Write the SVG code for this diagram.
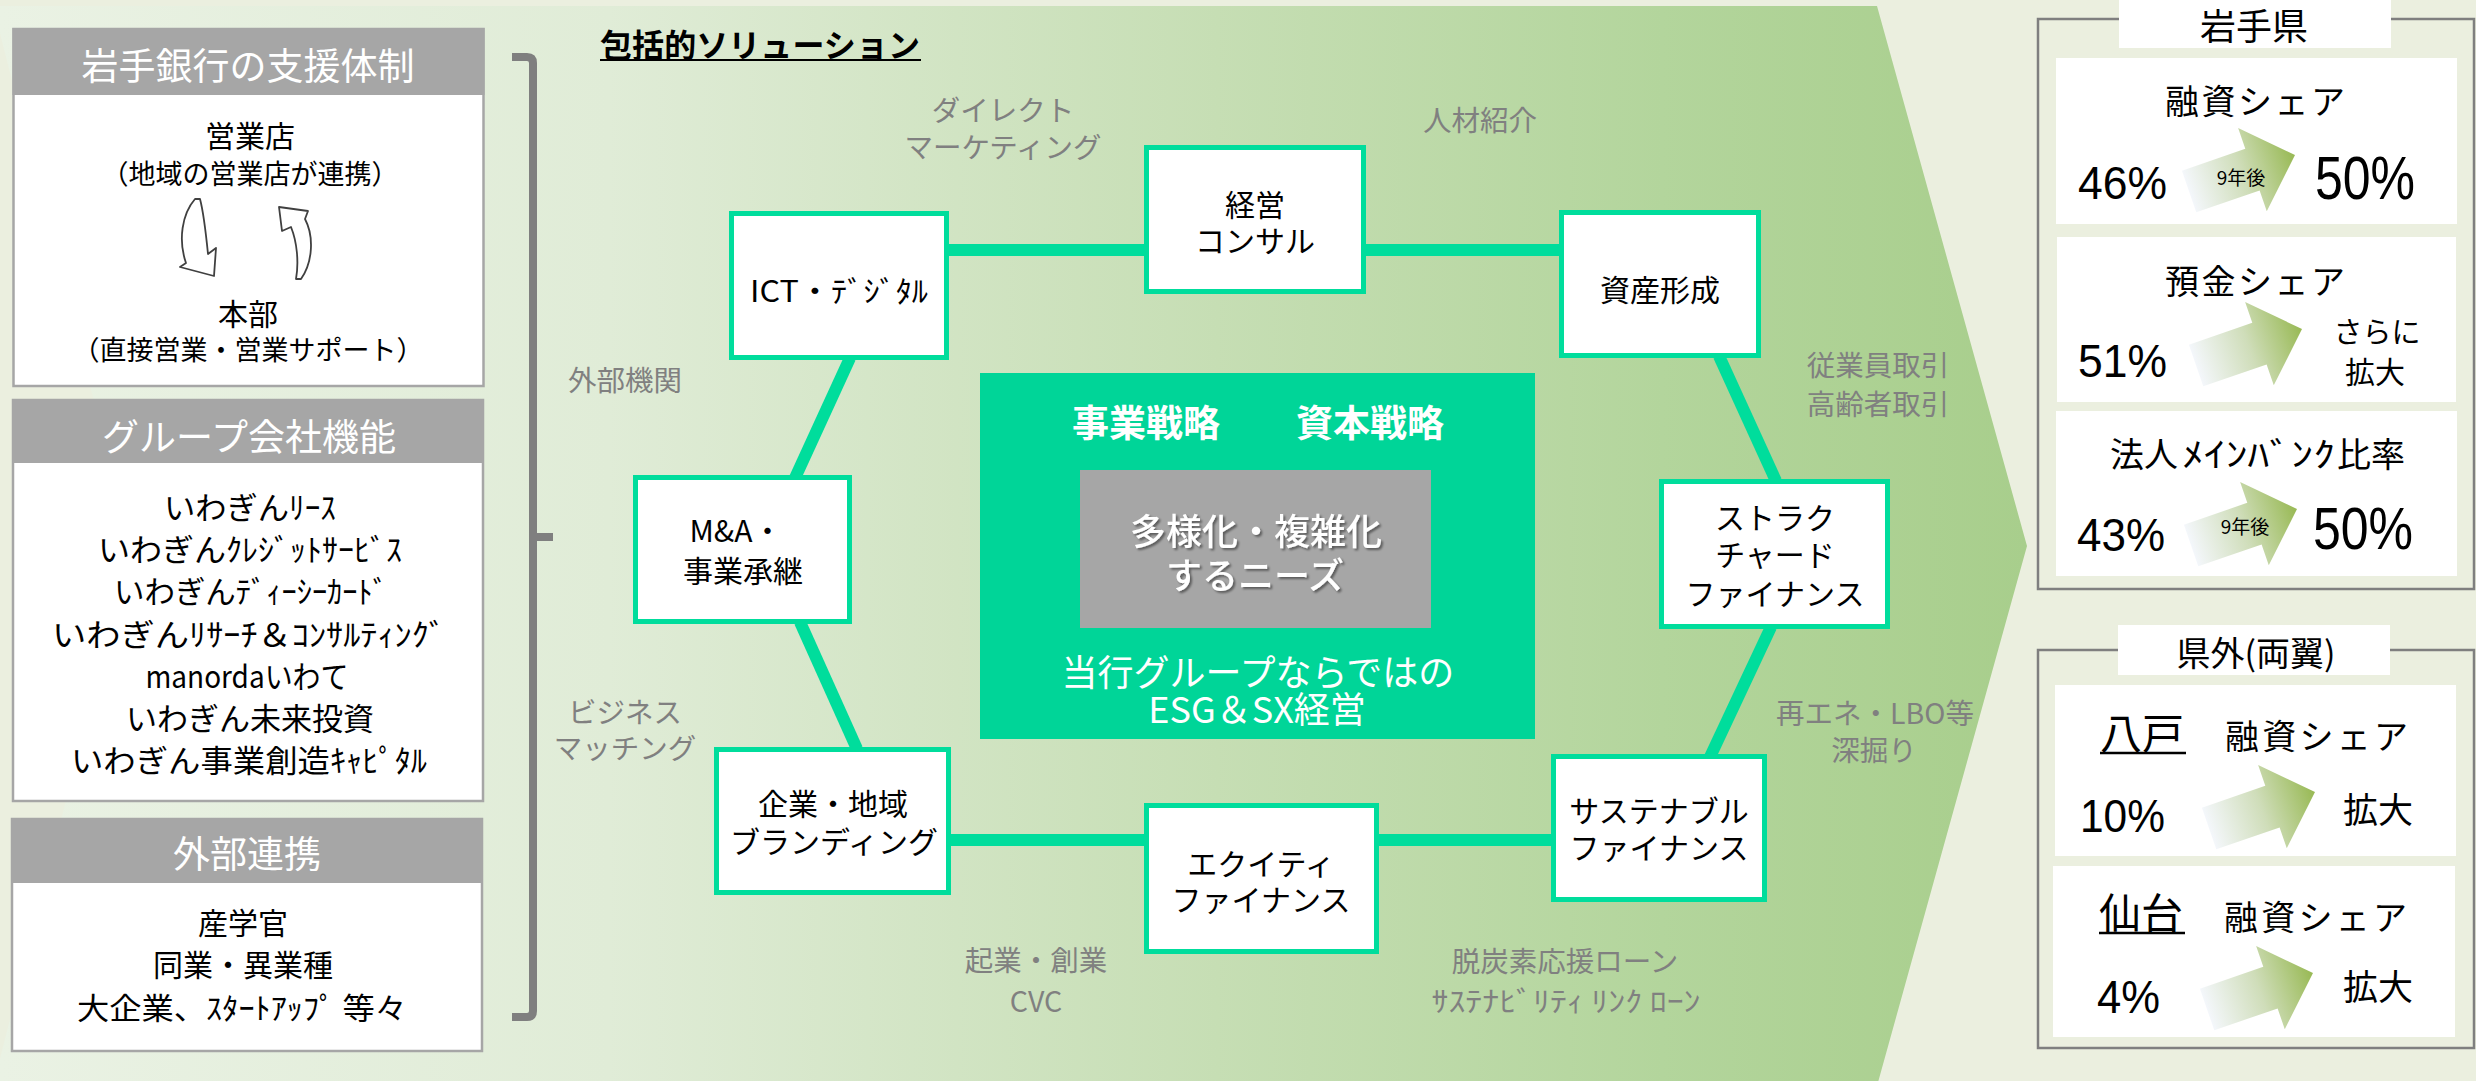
<svg xmlns="http://www.w3.org/2000/svg" width="2476" height="1081" viewBox="0 0 2476 1081">
<defs>
<linearGradient id="chev" x1="0" y1="0" x2="2027" y2="0" gradientUnits="userSpaceOnUse">
<stop offset="0" stop-color="#EAF2E4"/>
<stop offset="0.3" stop-color="#E0ECD7"/>
<stop offset="0.6" stop-color="#C6DEB4"/>
<stop offset="0.82" stop-color="#B3D59C"/>
<stop offset="1" stop-color="#A8CE8C"/>
</linearGradient>
<linearGradient id="arrG" x1="0" y1="0" x2="1" y2="0">
<stop offset="0" stop-color="#F4F7FB"/>
<stop offset="0.5" stop-color="#CFDDB9"/>
<stop offset="1" stop-color="#98B954"/>
</linearGradient>
<path id="upArrow" d="M0,0 L-45,-44 L-45,-22 L-112,-22 L-112,22 L-45,22 L-45,44 Z" fill="url(#arrG)"/>
<filter id="sh" x="-10%" y="-10%" width="130%" height="140%">
<feDropShadow dx="2" dy="2" stdDeviation="1.2" flood-color="#000" flood-opacity="0.45"/>
</filter>
<style>
.jp{font-family:"Noto Sans CJK JP","Noto Sans",sans-serif}
.num{font-family:"Liberation Sans","Noto Sans CJK JP",sans-serif}
.hdr{fill:#A6A6A6}
.hdrt{fill:#fff;font-size:37px;text-anchor:middle}
.body{fill:#fff;stroke:#A6A6A6;stroke-width:2.5}
.lt{fill:#000;text-anchor:middle}
.node rect{fill:#fff;stroke:#00DD9C;stroke-width:5}
.node text{fill:#000;font-size:30px;text-anchor:middle}
.lbl{fill:#808080;font-size:28.5px;text-anchor:middle}
.con{stroke:#00DD9C;stroke-width:12;fill:none}
.ibox{fill:#fff}
.obox{fill:none;stroke:#7F7F7F;stroke-width:2.5}
.rt{fill:#000}
.curv{fill:#fff;stroke:#404040;stroke-width:1.8;stroke-linejoin:round}
</style>
</defs>

<rect x="0" y="0" width="2476" height="1081" fill="#EBEFDF"/>
<polygon points="-7,6 1877,6 2027,546 1877,1086 -7,1086 131,546" fill="url(#chev)"/>

<!-- Left panel -->
<g id="box-shien">
<rect class="body" x="13.5" y="29" width="470" height="357"/>
<rect class="hdr" x="12.5" y="28" width="472" height="67"/>
<text class="jp hdrt" x="248" y="80">岩手銀行の支援体制</text>
<text class="jp lt"><tspan x="250" y="147" font-size="30">営業店</tspan><tspan x="250" y="184" font-size="27">（地域の営業店が連携）</tspan></text>
<path class="curv" d="M195,199 C182,214 178,240 186,263 L180,267 L214,276 L216,248 L208,254 C206,234 204,214 200,199 Z"/>
<path class="curv" d="M301,279 C313,262 314,236 305,219 L308,211 L279,207 L282,231 L291,227 C297,242 299,262 296,279 Z"/>
<text class="jp lt"><tspan x="248" y="325" font-size="30">本部</tspan><tspan x="248" y="360" font-size="27">（直接営業・営業サポート）</tspan></text>
</g>

<g id="box-group">
<rect class="body" x="13" y="400" width="470" height="401"/>
<rect class="hdr" x="12" y="399" width="472" height="64"/>
<text class="jp hdrt" x="249" y="451">グループ会社機能</text>
<g class="jp lt" font-size="31">
<text x="250" y="519" textLength="172" lengthAdjust="spacingAndGlyphs">いわぎんﾘｰｽ</text>
<text x="250" y="561" textLength="304" lengthAdjust="spacingAndGlyphs">いわぎんｸﾚｼﾞｯﾄｻｰﾋﾞｽ</text>
<text x="251" y="603" textLength="274" lengthAdjust="spacingAndGlyphs">いわぎんﾃﾞｨｰｼｰｶｰﾄﾞ</text>
<text x="249" y="646" textLength="394" lengthAdjust="spacingAndGlyphs">いわぎんﾘｻｰﾁ＆ｺﾝｻﾙﾃｨﾝｸﾞ</text>
<text x="247" y="688" textLength="203" lengthAdjust="spacingAndGlyphs">manordaいわて</text>
<text x="250" y="730">いわぎん未来投資</text>
<text x="249" y="772" textLength="356" lengthAdjust="spacingAndGlyphs">いわぎん事業創造ｷｬﾋﾟﾀﾙ</text>
</g>
</g>

<g id="box-gaibu">
<rect class="body" x="12" y="819" width="470" height="232"/>
<rect class="hdr" x="11" y="818" width="472" height="65"/>
<text class="jp hdrt" x="247" y="868">外部連携</text>
<text class="jp lt" font-size="30"><tspan x="243" y="934">産学官</tspan><tspan x="243" y="976">同業・異業種</tspan></text>
<text class="jp lt" x="242" y="1019" font-size="30" textLength="330" lengthAdjust="spacingAndGlyphs">大企業、ｽﾀｰﾄｱｯﾌﾟ 等々</text>
</g>

<path id="bracket" d="M512,57 H527 Q533,57 533,63 V1011 Q533,1017 527,1017 H512 M533,537 H553" fill="none" stroke="#7F7F7F" stroke-width="8"/>

<!-- Title -->
<text class="jp" x="600" y="57" font-size="32" font-weight="bold" fill="#000" textLength="320">包括的ソリューション</text>
<line x1="600" y1="60" x2="921" y2="60" stroke="#000" stroke-width="2"/>

<!-- Gray labels -->
<g class="jp lbl">
<text><tspan x="1003" y="121">ダイレクト</tspan><tspan x="1003" y="158">マーケティング</tspan></text>
<text x="1480" y="131">人材紹介</text>
<text x="625" y="391">外部機関</text>
<text><tspan x="1878" y="376">従業員取引</tspan><tspan x="1878" y="415">高齢者取引</tspan></text>
<text><tspan x="625" y="723">ビジネス</tspan><tspan x="625" y="759">マッチング</tspan></text>
<text><tspan x="1875" y="724">再エネ・LBO等</tspan><tspan x="1874" y="761">深掘り</tspan></text>
<text><tspan x="1036" y="971">起業・創業</tspan><tspan x="1036" y="1012">CVC</tspan></text>
<text x="1565" y="972">脱炭素応援ローン</text>
<text x="1566" y="1012" textLength="269" lengthAdjust="spacingAndGlyphs">ｻｽﾃﾅﾋﾞﾘﾃｨ ﾘﾝｸ ﾛｰﾝ</text>
</g>

<!-- Connectors -->
<g id="connectors" class="con">
<path d="M947,250 H1146"/>
<path d="M1364,250 H1561"/>
<path d="M1719,356 L1776,481"/>
<path d="M1771,627 L1710,757"/>
<path d="M1377,840 H1553"/>
<path d="M949,840 H1146"/>
<path d="M857,749 L800,622"/>
<path d="M795,478 L850,358"/>
</g>

<!-- Center -->
<g id="center">
<rect x="980" y="373" width="555" height="366" fill="#00D598"/>
<text class="jp" x="1146" y="437" font-size="37" font-weight="bold" fill="#fff" text-anchor="middle">事業戦略</text>
<text class="jp" x="1370" y="437" font-size="37" font-weight="bold" fill="#fff" text-anchor="middle">資本戦略</text>
<rect x="1080" y="470" width="351" height="158" fill="#A6A6A6"/>
<text filter="url(#sh)" class="jp" fill="#fff" font-size="36" text-anchor="middle" font-weight="500"><tspan x="1256" y="545">多様化・複雑化</tspan><tspan x="1255" y="589">するニーズ</tspan></text>
<text class="jp" font-size="36" fill="#fff" text-anchor="middle"><tspan x="1258" y="686">当行グループならではの</tspan><tspan x="1257" y="723">ESG＆SX経営</tspan></text>
</g>

<!-- Nodes -->
<g id="node-ict" class="node jp">
<rect x="731.5" y="213.5" width="215" height="144"/>
<text x="839" y="302" textLength="178" lengthAdjust="spacingAndGlyphs">ICT・ﾃﾞｼﾞﾀﾙ</text>
</g>
<g id="node-keiei" class="node jp">
<rect x="1146.5" y="147.5" width="217" height="144"/>
<text><tspan x="1255" y="216">経営</tspan><tspan x="1255" y="252">コンサル</tspan></text>
</g>
<g id="node-shisan" class="node jp">
<rect x="1561.5" y="212.5" width="197" height="143"/>
<text x="1660" y="301">資産形成</text>
</g>
<g id="node-ma" class="node jp">
<rect x="635.5" y="477.5" width="214" height="144"/>
<text><tspan x="736" y="542">M&amp;A・</tspan><tspan x="743" y="582">事業承継</tspan></text>
</g>
<g id="node-struct" class="node jp">
<rect x="1661.5" y="481.5" width="226" height="145"/>
<text><tspan x="1775" y="529">ストラク</tspan><tspan x="1775" y="566">チャード</tspan><tspan x="1775" y="605">ファイナンス</tspan></text>
</g>
<g id="node-kigyo" class="node jp">
<rect x="716.5" y="749.5" width="232" height="143"/>
<text><tspan x="833" y="815">企業・地域</tspan><tspan x="834" y="853">ブランディング</tspan></text>
</g>
<g id="node-equity" class="node jp">
<rect x="1146.5" y="805.5" width="230" height="146"/>
<text><tspan x="1261" y="875">エクイティ</tspan><tspan x="1261" y="911">ファイナンス</tspan></text>
</g>
<g id="node-sustain" class="node jp">
<rect x="1553.5" y="756.5" width="211" height="143"/>
<text><tspan x="1659" y="822">サステナブル</tspan><tspan x="1659" y="859">ファイナンス</tspan></text>
</g>

<!-- Right panel: Iwate -->
<g id="iwate">
<rect class="obox" x="2038" y="19" width="436" height="570"/>
<rect x="2119" y="0" width="272" height="48" fill="#fff"/>
<text class="jp rt" x="2254" y="40" font-size="36" text-anchor="middle">岩手県</text>

<rect class="ibox" x="2056" y="58" width="401" height="166"/>
<text class="jp rt" x="2255" y="114" font-size="34" text-anchor="middle" textLength="180">融資シェア</text>
<text class="num rt" x="2078" y="199" font-size="47" textLength="89" lengthAdjust="spacingAndGlyphs">46%</text>
<use href="#upArrow" transform="translate(2295,155) rotate(-19)"/>
<text class="jp rt" x="2241" y="185" font-size="19" text-anchor="middle" fill="#333">9年後</text>
<text class="num rt" x="2315" y="199" font-size="61" textLength="100" lengthAdjust="spacingAndGlyphs">50%</text>

<rect class="ibox" x="2057" y="237" width="399" height="165"/>
<text class="jp rt" x="2255" y="294" font-size="34" text-anchor="middle" textLength="180">預金シェア</text>
<text class="num rt" x="2078" y="377" font-size="47" textLength="89" lengthAdjust="spacingAndGlyphs">51%</text>
<use href="#upArrow" transform="translate(2302,329) rotate(-19)"/>
<text class="jp rt" text-anchor="middle"><tspan x="2377" y="343" font-size="29">さらに</tspan><tspan x="2375" y="383" font-size="30">拡大</tspan></text>

<rect class="ibox" x="2056" y="411" width="401" height="165"/>
<text class="jp rt" x="2110" y="467" font-size="34">法人</text>
<text class="jp rt" x="2182" y="467" font-size="34" textLength="153" lengthAdjust="spacingAndGlyphs">ﾒｲﾝﾊﾞﾝｸ</text>
<text class="jp rt" x="2337" y="467" font-size="34">比率</text>
<text class="num rt" x="2077" y="551" font-size="47" textLength="88" lengthAdjust="spacingAndGlyphs">43%</text>
<use href="#upArrow" transform="translate(2297,509) rotate(-19)"/>
<text class="jp rt" x="2245" y="534" font-size="19" text-anchor="middle" fill="#333">9年後</text>
<text class="num rt" x="2313" y="549" font-size="60" textLength="100" lengthAdjust="spacingAndGlyphs">50%</text>
</g>

<!-- Right panel: outside prefecture -->
<g id="kengai">
<rect class="obox" x="2038" y="650" width="436" height="398"/>
<rect x="2118" y="625" width="272" height="50" fill="#fff"/>
<text class="jp rt" x="2256" y="666" font-size="34" text-anchor="middle">県外(両翼)</text>

<rect class="ibox" x="2055" y="685" width="401" height="171"/>
<text class="jp rt" x="2100" y="749" font-size="42">八戸</text>
<line x1="2100" y1="753" x2="2186" y2="753" stroke="#000" stroke-width="2.5"/>
<text class="jp rt" x="2225" y="749" font-size="34" textLength="183">融資シェア</text>
<text class="num rt" x="2080" y="832" font-size="47" textLength="85" lengthAdjust="spacingAndGlyphs">10%</text>
<use href="#upArrow" transform="translate(2315,792) rotate(-19)"/>
<text class="jp rt" x="2378" y="823" font-size="35" text-anchor="middle">拡大</text>

<rect class="ibox" x="2053" y="866" width="402" height="171"/>
<text class="jp rt" x="2099" y="929" font-size="42">仙台</text>
<line x1="2099" y1="933" x2="2185" y2="933" stroke="#000" stroke-width="2.5"/>
<text class="jp rt" x="2224" y="930" font-size="34" textLength="183">融資シェア</text>
<text class="num rt" x="2097" y="1013" font-size="47" textLength="63" lengthAdjust="spacingAndGlyphs">4%</text>
<use href="#upArrow" transform="translate(2313,973) rotate(-19)"/>
<text class="jp rt" x="2378" y="1000" font-size="35" text-anchor="middle">拡大</text>
</g>
</svg>
